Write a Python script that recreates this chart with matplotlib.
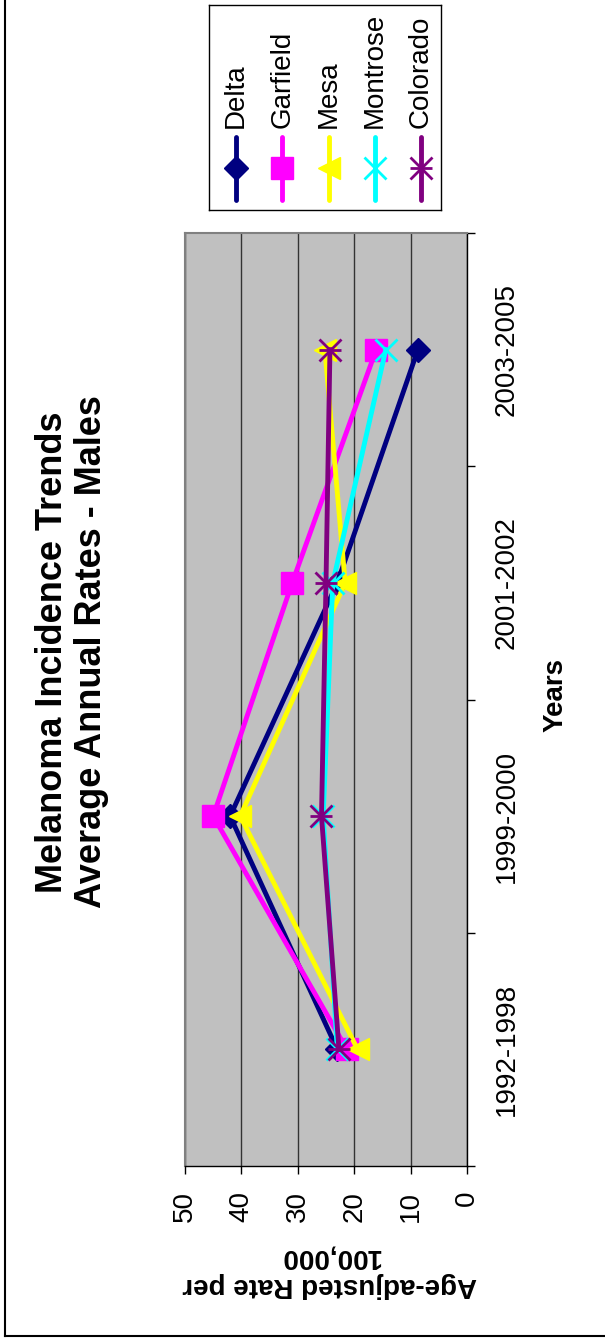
import matplotlib
matplotlib.use("Agg")
import matplotlib.pyplot as plt
from matplotlib.ticker import FixedLocator

plt.rcParams['font.family'] = ['Liberation Sans', 'DejaVu Sans']

# Average annual age-adjusted melanoma rates (males), per 100,000
periods = ['1992-1998', '1999-2000', '2001-2002', '2003-2005']
delta = [23.0, 42.0, 23.0, 8.7]
garfield = [21.3, 45.0, 31.0, 16.1]
mesa = [19.4, 40.2, 21.6, 25.2]
montrose = [23.0, 25.5, 23.8, 14.4]
colorado = [22.7, 25.8, 25.0, 24.3]

names = ['Delta', 'Garfield', 'Mesa', 'Montrose', 'Colorado']
series = [delta, garfield, mesa, montrose, colorado]
colors = ['#000080', '#FF00FF', '#FFFF00', '#00FFFF', '#800080']
rate_ticks = [0, 10, 20, 30, 40, 50]

W, H = 605, 1340


def fx(x):
    return x / W


def fy(y):
    return 1 - y / H


# marker styling per series (the chart is laid out sideways)
styles = [
    dict(marker='D', ms=12, mew=1),
    dict(marker='s', ms=16, mew=1),
    dict(marker='<', ms=16, mew=1),
    dict(marker='x', ms=16, mew=2),
    dict(marker='x', ms=16, mew=2),
]

fig = plt.figure(figsize=(W / 100, H / 100), dpi=100)
ax = fig.add_axes([fx(185), fy(1166), (467 - 185) / W, (1166 - 233) / H])
ax.set_facecolor('#C0C0C0')

ypos = list(range(len(periods)))
for i, (vals, col, st) in enumerate(zip(series, colors, styles)):
    ax.plot(vals, ypos, color=col, lw=3.5, mec=col, mfc=col,
            zorder=3 + i, clip_on=False, **st)
    if names[i] == 'Colorado':
        # asterisk = cross plus a bar
        ax.plot(vals, ypos, ls='none', marker='_', ms=16, mew=2,
                color=col, zorder=3 + i, clip_on=False)

ax.set_xlim(50, 0)
ax.set_ylim(-0.5, len(periods) - 0.5)

ax.set_xticks(rate_ticks)
ax.set_xticklabels([str(t) for t in rate_ticks], rotation=90, fontsize=20)
ax.tick_params(axis='x', direction='out', length=6, width=1, pad=12,
               color='black')
ax.grid(axis='x', color='#333333', lw=1)
ax.set_axisbelow(True)

ax.yaxis.tick_right()
ax.set_yticks(ypos)
ax.set_yticklabels(periods, rotation=90, va='center', fontsize=20)
ax.yaxis.set_minor_locator(FixedLocator([p - 0.5 for p in ypos] + [ypos[-1] + 0.5]))
ax.tick_params(axis='y', which='major', length=0, pad=19)
ax.tick_params(axis='y', which='minor', direction='out', length=6,
               width=1, color='black')

for side in ['left', 'top']:
    ax.spines[side].set_color('#808080')
    ax.spines[side].set_linewidth(1.5)
for side in ['right', 'bottom']:
    ax.spines[side].set_color('black')
    ax.spines[side].set_linewidth(1)

# titles
fig.text(fx(72), fy(652), 'Melanoma Incidence Trends\nAverage Annual Rates - Males',
         rotation=90, ha='center', va='center', fontsize=26,
         fontweight='bold', linespacing=1.15, multialignment='center')
fig.text(fx(556), fy(695), 'Years', rotation=90, ha='center', va='center',
         fontsize=20, fontweight='bold')
fig.text(fx(330), fy(1271), 'Age-adjusted Rate per\n100,000', rotation=180,
         ha='center', va='center', fontsize=20, fontweight='bold',
         multialignment='center', linespacing=1.15)

# legend box
lax = fig.add_axes([fx(209), fy(210), (441 - 209) / W, (210 - 5) / H])
lax.set_xlim(209, 441)
lax.set_ylim(210, 5)
lax.set_xticks([])
lax.set_yticks([])
lax.set_facecolor('white')
for sp in lax.spines.values():
    sp.set_color('black')
    sp.set_linewidth(1)

for i, (name, col, st) in enumerate(zip(names, colors, styles)):
    x = 236 + i * 46.25
    lax.plot([x, x], [137, 200], color=col, lw=3.5, solid_capstyle='round')
    lax.plot([x], [168], color=col, mec=col, mfc=col, ls='none', **st)
    if name == 'Colorado':
        lax.plot([x], [168], color=col, ls='none', marker='_', ms=16, mew=2)
    lax.text(x, 128, name, rotation=90, ha='center', va='bottom', fontsize=20)

# outer chart border
fig.add_artist(plt.Line2D([fx(5), fx(5)], [fy(1336), 1.0], color='black',
                          lw=1.5, transform=fig.transFigure))
fig.add_artist(plt.Line2D([fx(5), 1.0], [fy(1336), fy(1336)], color='black',
                          lw=1.5, transform=fig.transFigure))

fig.savefig('out.png', dpi=100)
